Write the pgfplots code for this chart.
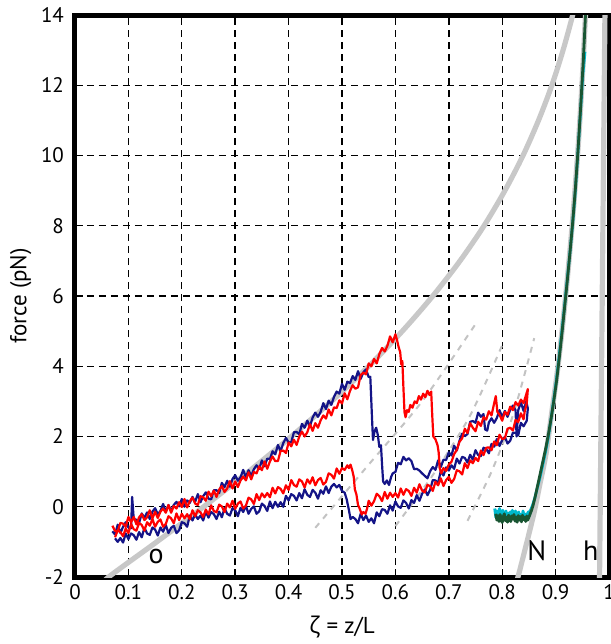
\documentclass[border=0pt]{standalone}
\usepackage{fontspec}
\setmainfont{PT Sans}
\newfontfamily\grk{Open Sans}
\usepackage{pgfplots}
\pgfplotsset{compat=1.18}
\definecolor{trblue}{RGB}{20,20,135}
\definecolor{trred}{RGB}{255,0,0}
\definecolor{trgreen}{RGB}{25,85,50}
\definecolor{trcyan}{RGB}{0,185,205}
\definecolor{fitgray}{RGB}{200,200,200}
\definecolor{dashgray}{RGB}{195,195,195}
\begin{document}
\begin{tikzpicture}
\begin{axis}[
  scale only axis, width=267pt, height=281pt,
  xmin=0, xmax=1, ymin=-2, ymax=14,
  xtick={0,0.1,0.2,0.3,0.4,0.5,0.6,0.7,0.8,0.9,1},
  xticklabels={0,0.1,0.2,0.3,0.4,0.5,0.6,0.7,0.8,0.9,1},
  ytick={-2,0,2,4,6,8,10,12,14},
  yticklabels={-2,0,2,4,6,8,10,12,14},
  ticklabel style={font=\fontsize{10.5}{12}\selectfont},
  yticklabel style={xshift=-2pt},
  grid=major,
  major grid style={black, line width=0.7pt, dash pattern=on 3.5pt off 2.5pt},
  axis line style={black, line width=2.5pt},
  tick style={black, line width=0.7pt},
  tick align=inside, major tick length=4pt,
  xtick pos=bottom, ytick pos=left,
  xlabel={{\grk ζ} = z/L}, ylabel={force (pN)},
  label style={font=\fontsize{11.5}{13}\selectfont},
  xlabel style={yshift=-1.5pt},
  ylabel style={yshift=-2pt},
]
% model curves
\addplot[fitgray, line width=2.6pt, smooth] coordinates {
(0.046,-2.3)(0.063,-2)(0.153,-1)(0.241,0)(0.325,1)(0.405,2)(0.480,3)(0.550,4)(0.613,5)(0.670,6)(0.721,7)(0.766,8)(0.805,9)(0.839,10)(0.868,11)(0.893,12)(0.914,13)(0.932,14)(0.947,15)};
\addplot[fitgray, line width=2.6pt, smooth] coordinates {
(0.815,-2.8)(0.833,-1.8)(0.858,-0.28)(0.870,0.6)(0.882,1.5)(0.892,2.6)(0.902,3.7)(0.912,5.0)(0.922,6.5)(0.932,8.2)(0.942,10.2)(0.950,12.2)(0.956,14)(0.960,15)};
\addplot[fitgray, line width=2.6pt] coordinates {(0.982,-2.5)(0.993,15)};
\addplot[dashgray, line width=1pt, dash pattern=on 3pt off 3pt, smooth] coordinates {(0.45,-0.6)(0.55,1.2)(0.65,3.0)(0.75,5.2)};
\addplot[dashgray, line width=1pt, dash pattern=on 3pt off 3pt, smooth] coordinates {(0.60,-0.55)(0.67,0.9)(0.74,2.6)(0.80,4.6)};
\addplot[dashgray, line width=1pt, dash pattern=on 3pt off 3pt, smooth] coordinates {(0.735,-0.4)(0.78,1.0)(0.82,2.6)(0.86,4.8)};
% blue trace
\addplot[trblue, line width=1.1pt, line join=round] coordinates {
(0.070,-0.70)(0.075,-0.79)(0.080,-0.51)(0.085,-0.75)(0.090,-0.57)(0.095,-0.44)(0.100,-0.59)(0.105,-0.61)(0.107,0.28)(0.110,-0.35)(0.115,-0.37)(0.120,-0.46)(0.125,-0.19)(0.130,-0.32)(0.135,-0.16)(0.140,-0.35)(0.145,-0.14)(0.150,-0.04)(0.155,-0.21)(0.160,-0.12)(0.165,0.08)(0.170,-0.14)(0.175,0.05)(0.180,-0.12)(0.185,0.05)(0.190,0.14)(0.195,0.01)(0.200,0.22)(0.205,0.00)(0.210,0.18)(0.215,0.11)(0.220,0.28)(0.225,0.14)(0.230,0.36)(0.235,0.13)(0.240,0.30)(0.245,0.41)(0.250,0.23)(0.255,0.21)(0.260,0.47)(0.265,0.47)(0.270,0.39)(0.275,0.68)(0.280,0.56)(0.285,0.74)(0.290,0.57)(0.295,0.79)(0.300,0.90)(0.305,0.74)(0.310,0.84)(0.315,1.05)(0.320,0.84)(0.325,1.04)(0.330,0.88)(0.335,1.07)(0.340,1.18)(0.345,1.08)(0.350,1.32)(0.355,1.15)(0.360,1.37)(0.365,1.36)(0.370,1.58)(0.375,1.49)(0.380,1.76)(0.385,1.58)(0.390,1.81)(0.395,1.96)(0.400,1.83)(0.405,1.84)(0.410,2.12)(0.415,2.13)(0.420,2.06)(0.425,2.36)(0.430,2.25)(0.435,2.45)(0.440,2.29)(0.445,2.54)(0.450,2.68)(0.455,2.56)(0.460,2.70)(0.465,2.95)(0.470,2.78)(0.475,3.02)(0.480,2.90)(0.485,3.13)(0.490,3.28)(0.495,3.22)(0.500,3.50)(0.505,3.33)(0.510,3.56)(0.515,3.52)(0.520,3.72)(0.525,3.61)(0.530,3.86)(0.535,3.64)(0.540,3.83)(0.545,3.91)(0.550,3.69)(0.553,3.70)
(0.556,2.60)(0.558,1.90)(0.561,2.15)(0.564,2.25)(0.567,2.05)(0.570,1.70)(0.573,1.75)(0.575,1.20)(0.577,0.72)(0.580,0.65)(0.584,0.75)(0.588,0.62)(0.592,0.85)
(0.595,0.95)(0.600,0.99)(0.605,1.25)(0.610,1.21)(0.615,1.42)(0.620,1.32)(0.625,1.38)(0.630,1.30)(0.635,1.07)(0.640,1.08)(0.645,1.03)(0.650,0.95)(0.655,0.88)(0.660,0.81)(0.665,1.01)(0.670,1.13)(0.675,1.05)(0.680,1.32)(0.685,1.13)(0.690,1.34)(0.695,1.33)(0.700,1.55)(0.705,1.46)(0.710,1.74)(0.715,1.60)(0.720,1.88)(0.725,2.08)(0.730,2.01)(0.735,2.07)(0.740,2.42)(0.745,2.44)(0.750,2.39)(0.755,2.68)(0.760,2.56)(0.765,2.64)(0.768,2.20)(0.772,2.17)(0.775,2.40)(0.780,2.52)(0.785,2.39)(0.790,2.53)(0.795,2.75)(0.800,2.55)(0.805,2.73)(0.810,2.56)(0.815,2.76)(0.820,2.88)(0.825,2.75)(0.827,2.00)(0.830,2.75)(0.835,2.97)(0.840,2.73)(0.845,3.00)(0.848,2.80)
(0.846,2.45)(0.840,2.29)(0.835,2.39)(0.830,2.03)(0.825,2.10)(0.820,2.11)(0.815,1.88)(0.810,1.80)(0.805,1.99)(0.800,1.90)(0.795,1.73)(0.790,1.93)(0.785,1.71)(0.780,1.79)(0.775,1.52)(0.770,1.65)(0.765,1.68)(0.760,1.44)(0.755,1.47)(0.750,1.61)(0.745,1.34)(0.740,1.48)(0.735,1.26)(0.730,1.39)(0.725,1.42)(0.720,1.23)(0.715,1.37)(0.710,1.08)(0.705,1.18)(0.700,1.03)(0.695,1.12)(0.690,0.89)(0.685,1.02)(0.680,0.68)(0.675,0.75)(0.670,0.76)(0.665,0.48)(0.660,0.33)(0.655,0.49)(0.650,0.37)(0.645,0.17)(0.640,0.33)(0.635,0.11)(0.630,0.19)(0.625,-0.05)(0.620,0.11)(0.615,0.18)(0.610,-0.03)(0.605,0.01)(0.600,0.15)(0.595,-0.11)(0.590,0.04)(0.585,-0.20)(0.580,-0.09)(0.575,-0.07)(0.570,-0.27)(0.565,-0.16)(0.560,-0.47)(0.555,-0.33)(0.550,-0.43)(0.545,-0.25)(0.540,-0.38)(0.535,-0.20)(0.530,-0.47)(0.525,-0.35)(0.520,-0.29)(0.516,-0.35)(0.513,-0.10)(0.509,0.20)(0.505,0.40)(0.500,0.45)(0.495,0.62)(0.490,0.55)(0.485,0.65)(0.480,0.57)(0.475,0.39)(0.470,0.58)(0.465,0.37)(0.460,0.47)(0.455,0.23)(0.450,0.40)(0.445,0.48)(0.440,0.28)(0.435,0.34)(0.430,0.50)(0.425,0.24)(0.420,0.39)(0.415,0.18)(0.410,0.31)(0.405,0.36)(0.400,0.18)(0.395,0.31)(0.390,0.00)(0.385,0.13)(0.380,0.00)(0.375,0.14)(0.370,-0.04)(0.365,0.15)(0.360,-0.12)(0.355,0.02)(0.350,0.09)(0.345,-0.13)(0.340,-0.20)(0.335,0.01)(0.330,-0.06)(0.325,-0.20)(0.320,0.03)(0.315,-0.15)(0.310,-0.03)(0.305,-0.27)(0.300,-0.10)(0.295,-0.04)(0.290,-0.25)(0.285,-0.20)(0.280,-0.04)(0.275,-0.30)(0.270,-0.14)(0.265,-0.35)(0.260,-0.21)(0.255,-0.15)(0.250,-0.31)(0.245,-0.14)(0.240,-0.39)(0.235,-0.25)(0.230,-0.35)(0.225,-0.22)(0.220,-0.39)(0.215,-0.25)(0.210,-0.57)(0.205,-0.47)(0.200,-0.44)(0.195,-0.67)(0.190,-0.75)(0.185,-0.54)(0.180,-0.60)(0.175,-0.75)(0.170,-0.52)(0.165,-0.71)(0.160,-0.59)(0.155,-0.82)(0.150,-0.65)(0.145,-0.59)(0.140,-0.80)(0.135,-0.76)(0.130,-0.60)(0.125,-0.87)(0.120,-0.72)(0.115,-0.94)(0.110,-0.81)(0.105,-0.76)(0.100,-0.92)(0.095,-0.76)(0.090,-1.02)(0.085,-0.89)(0.080,-1.00)(0.075,-0.90)};
% red trace
\addplot[trred, line width=1.1pt, line join=round] coordinates {
(0.070,-0.54)(0.075,-0.69)(0.080,-0.70)(0.085,-0.46)(0.090,-0.48)(0.095,-0.57)(0.100,-0.29)(0.105,-0.44)(0.110,-0.29)(0.115,-0.50)(0.120,-0.30)(0.125,-0.21)(0.130,-0.38)(0.135,-0.30)(0.140,-0.10)(0.145,-0.33)(0.150,-0.14)(0.155,-0.32)(0.160,-0.14)(0.165,-0.05)(0.170,-0.17)(0.175,0.05)(0.180,-0.17)(0.185,0.02)(0.190,-0.05)(0.195,0.13)(0.200,-0.01)(0.205,0.22)(0.210,-0.02)(0.215,0.16)(0.220,0.26)(0.225,0.09)(0.230,0.05)(0.235,0.30)(0.240,0.27)(0.245,0.17)(0.250,0.43)(0.255,0.30)(0.260,0.46)(0.265,0.28)(0.270,0.49)(0.275,0.59)(0.280,0.42)(0.285,0.52)(0.290,0.73)(0.295,0.52)(0.300,0.72)(0.305,0.56)(0.310,0.75)(0.315,0.86)(0.320,0.75)(0.325,0.98)(0.330,0.78)(0.335,0.99)(0.340,0.95)(0.345,1.15)(0.350,1.04)(0.355,1.29)(0.360,1.08)(0.365,1.29)(0.370,1.43)(0.375,1.30)(0.380,1.30)(0.385,1.59)(0.390,1.60)(0.395,1.53)(0.400,1.83)(0.405,1.72)(0.410,1.91)(0.415,1.76)(0.420,2.00)(0.425,2.14)(0.430,2.00)(0.435,2.12)(0.440,2.35)(0.445,2.16)(0.450,2.38)(0.455,2.25)(0.460,2.46)(0.465,2.60)(0.470,2.51)(0.475,2.77)(0.480,2.60)(0.485,2.83)(0.490,2.81)(0.495,3.03)(0.500,2.94)(0.505,3.23)(0.510,3.06)(0.515,3.30)(0.520,3.46)(0.525,3.36)(0.530,3.40)(0.535,3.75)(0.540,3.82)(0.545,3.77)(0.550,4.08)(0.555,4.00)(0.560,4.21)(0.565,4.08)(0.570,4.35)(0.575,4.52)(0.580,4.42)(0.585,4.58)(0.590,4.85)(0.595,4.68)(0.600,4.91)(0.603,4.75)(0.606,4.55)(0.609,4.40)(0.611,4.05)(0.613,4.15)(0.615,3.40)(0.617,2.70)(0.619,2.55)(0.622,2.75)(0.625,2.70)(0.628,2.90)(0.632,2.82)(0.636,3.00)(0.640,2.95)(0.644,3.15)(0.648,3.05)(0.652,3.22)(0.656,3.12)(0.660,3.30)(0.664,3.18)(0.667,3.28)(0.669,2.60)(0.671,2.00)(0.675,1.92)(0.679,1.75)(0.681,1.55)(0.683,1.10)(0.686,0.95)(0.690,1.10)(0.695,1.02)(0.700,1.20)(0.705,1.28)(0.710,1.50)(0.715,1.62)(0.720,1.85)(0.725,1.95)(0.730,2.22)(0.735,2.10)(0.740,2.38)(0.745,2.25)(0.750,2.15)(0.755,2.42)(0.760,2.30)(0.765,2.55)(0.770,2.48)(0.775,2.72)(0.780,2.60)(0.785,2.95)(0.788,3.15)(0.791,2.70)(0.795,2.62)(0.800,2.45)(0.805,2.70)(0.810,2.62)(0.815,2.85)(0.820,2.75)(0.825,2.98)(0.830,2.88)(0.835,3.05)(0.840,2.95)(0.845,3.20)(0.848,3.35)
(0.846,2.95)(0.842,2.70)(0.840,2.49)(0.835,2.66)(0.830,2.41)(0.825,2.47)(0.820,2.17)(0.815,2.25)(0.810,2.22)(0.805,1.95)(0.800,1.93)(0.795,2.05)(0.790,1.75)(0.785,1.86)(0.780,1.61)(0.775,1.69)(0.770,1.68)(0.765,1.47)(0.760,1.60)(0.755,1.30)(0.750,1.39)(0.745,1.24)(0.740,1.32)(0.735,1.10)(0.730,1.24)(0.725,0.92)(0.720,1.01)(0.715,1.04)(0.710,0.79)(0.705,0.68)(0.700,0.85)(0.695,0.76)(0.690,0.59)(0.685,0.81)(0.680,0.61)(0.675,0.71)(0.670,0.45)(0.665,0.59)(0.660,0.62)(0.655,0.41)(0.650,0.46)(0.645,0.64)(0.640,0.40)(0.635,0.54)(0.630,0.31)(0.625,0.45)(0.620,0.50)(0.615,0.34)(0.610,0.52)(0.605,0.26)(0.600,0.39)(0.595,0.28)(0.590,0.40)(0.585,0.23)(0.580,0.42)(0.575,0.16)(0.570,0.30)(0.565,0.37)(0.560,0.16)(0.555,0.03)(0.550,0.17)(0.547,-0.05)(0.544,-0.20)(0.540,-0.15)(0.537,-0.22)(0.533,-0.05)(0.530,0.05)(0.527,0.35)(0.524,0.50)(0.522,0.85)(0.519,1.05)(0.516,1.20)(0.513,1.10)(0.510,1.18)(0.505,1.05)(0.500,1.10)(0.495,0.94)(0.490,1.09)(0.485,0.80)(0.480,0.91)(0.475,0.95)(0.470,0.71)(0.465,0.63)(0.460,0.82)(0.455,0.76)(0.450,0.61)(0.445,0.84)(0.440,0.66)(0.435,0.78)(0.430,0.55)(0.425,0.72)(0.420,0.78)(0.415,0.57)(0.410,0.62)(0.405,0.76)(0.400,0.48)(0.395,0.61)(0.390,0.38)(0.385,0.51)(0.380,0.56)(0.375,0.38)(0.370,0.54)(0.365,0.27)(0.360,0.39)(0.355,0.27)(0.350,0.38)(0.345,0.19)(0.340,0.36)(0.335,0.08)(0.330,0.21)(0.325,0.26)(0.320,0.03)(0.315,-0.05)(0.310,0.15)(0.305,0.09)(0.300,-0.06)(0.295,0.17)(0.290,-0.02)(0.285,0.09)(0.280,-0.15)(0.275,0.01)(0.270,0.06)(0.265,-0.16)(0.260,-0.12)(0.255,0.04)(0.250,-0.22)(0.245,-0.08)(0.240,-0.29)(0.235,-0.16)(0.230,-0.10)(0.225,-0.27)(0.220,-0.10)(0.215,-0.36)(0.210,-0.21)(0.205,-0.33)(0.200,-0.20)(0.195,-0.38)(0.190,-0.19)(0.185,-0.47)(0.180,-0.33)(0.175,-0.27)(0.170,-0.49)(0.165,-0.57)(0.160,-0.36)(0.155,-0.43)(0.150,-0.57)(0.145,-0.35)(0.140,-0.54)(0.135,-0.44)(0.130,-0.68)(0.125,-0.52)(0.120,-0.46)(0.115,-0.68)(0.110,-0.64)(0.105,-0.49)(0.100,-0.75)(0.095,-0.62)(0.090,-0.84)(0.085,-0.72)(0.080,-0.67)(0.075,-0.87)};
% high-force traces
\addplot[trcyan, line width=1.4pt, line join=round] coordinates {
(0.786,-0.05)(0.788,-0.30)(0.790,-0.12)(0.793,-0.22)(0.795,-0.05)(0.797,-0.32)(0.799,-0.18)(0.801,-0.10)(0.803,-0.34)(0.805,-0.22)(0.807,-0.12)(0.809,-0.30)(0.811,-0.18)(0.813,-0.36)(0.815,-0.15)(0.817,-0.24)(0.819,-0.10)(0.821,-0.33)(0.823,-0.20)(0.825,-0.12)(0.827,-0.35)(0.829,-0.24)(0.831,-0.15)(0.833,-0.34)(0.835,-0.22)(0.837,-0.30)(0.839,-0.12)(0.841,-0.26)(0.843,-0.36)(0.845,-0.20)(0.847,-0.30)(0.849,-0.14)(0.851,-0.26)(0.853,-0.10)(0.857,0.05)(0.861,0.25)(0.866,0.55)(0.871,0.85)(0.876,1.2)(0.881,1.55)(0.886,1.95)(0.891,2.45)(0.896,3.0)(0.901,3.55)(0.906,4.2)(0.911,4.9)(0.916,5.6)(0.921,6.35)(0.926,7.1)(0.931,7.9)(0.936,8.8)(0.941,9.9)(0.946,11.1)(0.951,12.3)(0.955,12.95)};
\addplot[trgreen, line width=1.4pt, line join=round] coordinates {
(0.788,-0.20)(0.790,-0.38)(0.792,-0.26)(0.794,-0.42)(0.796,-0.22)(0.798,-0.33)(0.800,-0.45)(0.802,-0.28)(0.804,-0.20)(0.806,-0.40)(0.808,-0.30)(0.810,-0.44)(0.812,-0.24)(0.814,-0.36)(0.816,-0.42)(0.818,-0.26)(0.820,-0.35)(0.822,-0.22)(0.824,-0.41)(0.826,-0.30)(0.828,-0.44)(0.830,-0.25)(0.832,-0.38)(0.834,-0.28)(0.836,-0.43)(0.838,-0.24)(0.840,-0.37)(0.842,-0.30)(0.844,-0.42)(0.846,-0.26)(0.848,-0.38)(0.850,-0.30)(0.852,-0.22)(0.855,-0.10)(0.858,0.05)(0.862,0.30)(0.867,0.65)(0.872,1.0)(0.877,1.35)(0.882,1.7)(0.887,2.1)(0.892,2.55)(0.897,3.05)(0.902,3.6)(0.907,4.25)(0.912,4.95)(0.917,5.7)(0.922,6.45)(0.927,7.25)(0.932,8.1)(0.937,9.05)(0.942,10.15)(0.947,11.4)(0.952,12.75)(0.956,14.0)(0.959,15.0)};
\node[font=\fontsize{14}{16}\selectfont] at (axis cs:0.152,-1.43) {o};
\node[font=\fontsize{14}{16}\selectfont] at (axis cs:0.865,-1.26) {N};
\node[font=\fontsize{14}{16}\selectfont] at (axis cs:0.966,-1.26) {h};
\end{axis}
\pgfresetboundingbox
\path[use as bounding box] ([shift={(-37.5pt,-33.5pt)}]current axis.south west) rectangle ([shift={(1pt,7.5pt)}]current axis.north east);
\end{tikzpicture}
\end{document}
